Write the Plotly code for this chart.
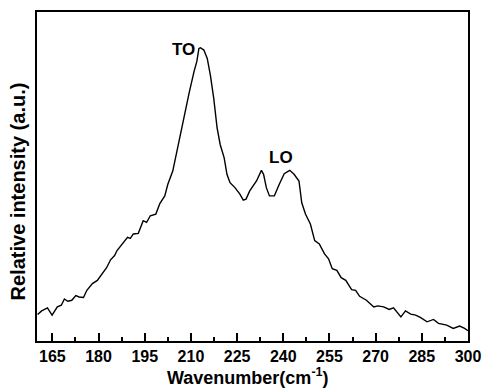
import plotly.graph_objects as go

wavenumber = [160.2, 161.5, 163.4, 164.9, 166.6, 167.9, 168.9, 170.0, 171.3, 172.6,
              173.7, 175.1, 176.2, 178.0, 179.6, 181.2, 182.6, 183.9, 185.2, 186.0,
              187.3, 188.3, 189.4, 190.3, 191.3, 192.9, 194.5, 195.6, 196.8, 198.6,
              199.9, 201.5, 202.5, 204.1, 205.7, 207.3, 208.4, 209.4, 211.0, 211.9,
              212.6, 213.1, 214.2, 215.3, 216.3, 217.4, 218.5, 219.5, 220.8, 221.7,
              222.7, 224.3, 225.9, 227.0, 227.9, 229.1, 231.3, 232.9, 233.6, 234.5,
              235.5, 237.1, 238.7, 240.3, 242.1, 243.5, 245.1, 246.0, 247.2, 248.8,
              250.2, 251.7, 253.4, 254.7, 255.9, 257.4, 258.8, 260.3, 262.2, 263.5,
              264.8, 267.0, 269.4, 270.7, 272.6, 274.4, 275.8, 278.2, 279.7, 281.4,
              283.0, 284.5, 286.7, 288.8, 290.4, 293.1, 295.2, 297.3, 298.9, 300.0]
intensity = [26.7, 30.3, 33.3, 26.0, 34.3, 36.0, 42.3, 40.0, 41.0, 45.7,
             44.3, 43.7, 51.0, 57.7, 61.0, 67.7, 73.7, 81.7, 86.0, 91.0,
             96.0, 101.0, 104.3, 103.3, 107.7, 108.3, 121.0, 119.3, 126.0, 127.7,
             138.3, 146.0, 157.7, 171.0, 194.3, 221.0, 234.3, 249.3, 271.0, 281.0,
             294.3, 295.0, 292.7, 284.3, 267.7, 244.3, 214.3, 197.7, 184.3, 167.7,
             159.3, 154.3, 147.7, 141.7, 142.7, 151.0, 161.0, 171.7, 167.7, 154.3,
             146.0, 146.0, 157.7, 168.3, 171.7, 167.7, 161.0, 139.0, 127.7, 117.7,
             101.0, 97.7, 87.7, 82.7, 72.7, 71.0, 63.7, 61.0, 51.7, 51.0,
             45.0, 41.0, 34.3, 35.3, 34.3, 31.7, 33.3, 24.3, 30.3, 27.0,
             26.0, 23.7, 19.3, 21.7, 17.7, 16.0, 12.7, 15.0, 12.7, 10.3]

x_ticks = [165, 180, 195, 210, 225, 240, 255, 270, 285, 300]
peak_labels = ["TO", "LO"]
peak_label_x = [212.0, 243.7]
peak_label_y = [293, 185]
x_title = "Wavenumber(cm<sup>-1</sup>)"
y_title = "Relative intensity (a.u.)"

FONT = "Liberation Sans, Arial, sans-serif"

fig = go.Figure()
fig.add_trace(go.Scatter(x=wavenumber, y=intensity, mode="lines",
                         line=dict(color="black", width=1.4), showlegend=False))

for t, xx, yy in zip(peak_labels, peak_label_x, peak_label_y):
    fig.add_annotation(x=xx, y=yy, text="<b>%s</b>" % t, showarrow=False,
                       xanchor="right", yanchor="middle",
                       font=dict(family=FONT, size=17, color="black"))

# axis titles as paper annotations for exact placement
fig.add_annotation(xref="paper", yref="paper", x=0.489, y=-0.109,
                   text="<b>%s</b>" % x_title, showarrow=False,
                   xanchor="center", yanchor="middle",
                   font=dict(family=FONT, size=18, color="black"))
fig.add_annotation(xref="paper", yref="paper", x=-0.043, y=0.456,
                   text="<b>%s</b>" % y_title, showarrow=False, textangle=-90,
                   xanchor="center", yanchor="middle",
                   font=dict(family=FONT, size=20, color="black"))

fig.update_layout(
    width=491, height=388,
    margin=dict(l=37, r=16, t=10, b=47),
    paper_bgcolor="white", plot_bgcolor="white",
    font=dict(family=FONT, size=16, color="black"),
    xaxis=dict(range=[160, 300], tickvals=x_ticks,
               ticktext=["<b>%d</b>" % v for v in x_ticks],
               ticks="inside", ticklen=8, tickwidth=1.5, tickcolor="black",
               minor=dict(dtick=7.5, tick0=157.5, ticks="inside", ticklen=4,
                          tickwidth=1.5, tickcolor="black"),
               showline=True, linecolor="black", linewidth=1.5, mirror=True,
               showgrid=False, zeroline=False,
               tickfont=dict(family=FONT, size=16)),
    yaxis=dict(range=[0, 331], showticklabels=False, ticks="",
               showline=True, linecolor="black", linewidth=1.5, mirror=True,
               showgrid=False, zeroline=False),
)

fig.write_html("out.html")
